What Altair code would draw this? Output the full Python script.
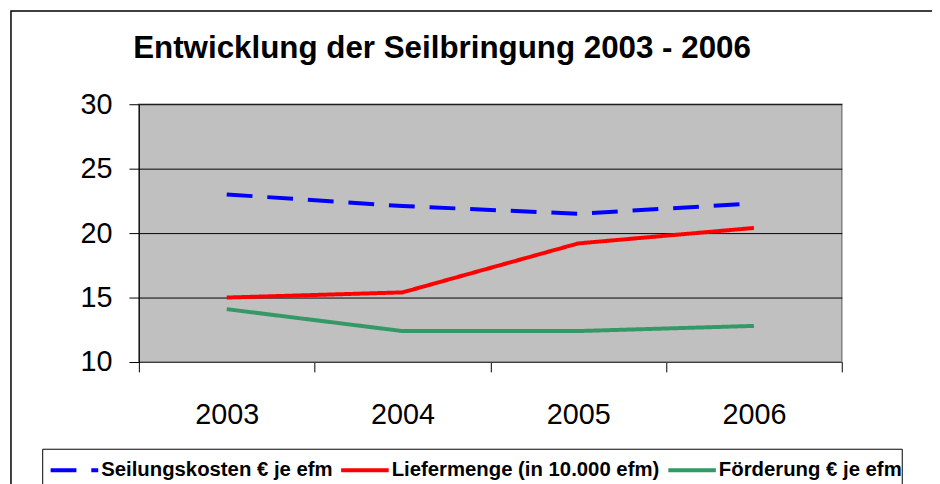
import altair as alt
import pandas as pd

years = ["2003", "2004", "2005", "2006"]
series_names = ["Seilungskosten € je efm", "Liefermenge (in 10.000 efm)", "Förderung € je efm"]
seilungskosten = [23.0, 22.1, 21.5, 22.3]
liefermenge = [15.0, 15.4, 19.2, 20.4]
foerderung = [14.1, 12.4, 12.4, 12.8]
colors = ["#0000FF", "#FF0000", "#339966"]
dashes = [[26, 15], [1, 0], [1, 0]]

rows = []
for name, vals in zip(series_names, [seilungskosten, liefermenge, foerderung]):
    for y, v in zip(years, vals):
        rows.append({"Jahr": y, "Wert": v, "Reihe": name})
df = pd.DataFrame(rows)

FONT = "Liberation Sans"
W, H = 709, 260

one = pd.DataFrame({"a": [0]})
outer_border = alt.Chart(one).mark_rect(
    fill=None, stroke="#000000", strokeWidth=1.5
).encode(
    x=alt.value(-129), x2=alt.value(900), y=alt.value(-94), y2=alt.value(500)
)
legend_box = alt.Chart(one).mark_rect(
    fill="#FFFFFF", stroke="#000000", strokeWidth=1
).encode(
    x=alt.value(-97), x2=alt.value(770), y=alt.value(348), y2=alt.value(500)
)

lines = alt.Chart(df).mark_line(strokeWidth=4).encode(
    x=alt.X("Jahr:N", sort=years, bandPosition=0.5,
            scale=alt.Scale(type="band", paddingInner=0, paddingOuter=0),
            axis=alt.Axis(title=None, labelAngle=0, labelFontSize=29, labelFont=FONT,
                          labelColor="#000000", tickBand="extent", tickSize=10,
                          tickColor="#000000", domainColor="#404040", labelPadding=29,
                          grid=False)),
    y=alt.Y("Wert:Q", scale=alt.Scale(domain=[10, 30], nice=False, zero=False),
            axis=alt.Axis(title=None, values=[10, 15, 20, 25, 30], labelFontSize=29,
                          labelFont=FONT, labelColor="#000000", tickSize=10,
                          tickColor="#000000", domainColor="#000000", labelPadding=17,
                          grid=True, gridColor="#000000", gridWidth=1)),
    color=alt.Color("Reihe:N", sort=series_names,
                    scale=alt.Scale(domain=series_names, range=colors),
                    legend=alt.Legend(title=None, orient="none", legendX=-91, legendY=343,
                                      direction="horizontal", symbolType="stroke",
                                      symbolSize=2304, symbolStrokeWidth=4,
                                      labelFont=FONT, labelFontWeight="bold", labelFontSize=20.5,
                                      labelColor="#000000", labelOffset=1, columnPadding=0,
                                      padding=0, symbolLimit=0, labelLimit=400)),
    strokeDash=alt.StrokeDash("Reihe:N", sort=series_names,
                              scale=alt.Scale(domain=series_names, range=dashes),
                              legend=None),
)

chart = alt.layer(outer_border, legend_box, lines).properties(
    width=W, height=H,
    title=alt.TitleParams("Entwicklung der Seilbringung 2003 - 2006", anchor="start",
                          font=FONT, fontSize=31.6, fontWeight="bold", color="#000000",
                          offset=-55, dx=124),
    autosize=alt.AutoSizeParams(type="none"),
    padding={"left": 132, "top": 95, "right": 91, "bottom": 121},
    background="#FFFFFF",
).configure_view(fill="#C0C0C0", stroke="#808080", strokeWidth=1.5)

chart.save("out.html", embed_options={"renderer": "svg", "actions": False})
